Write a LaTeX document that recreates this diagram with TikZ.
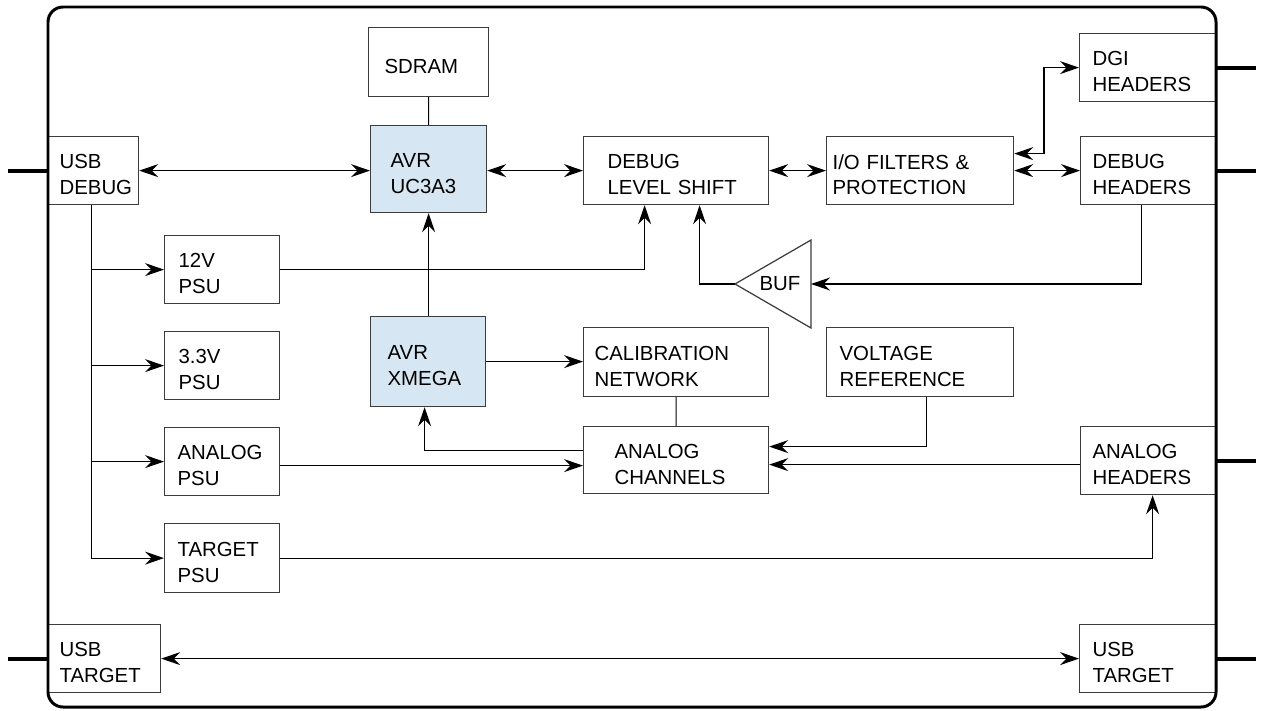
\documentclass[tikz,border=0pt]{standalone}
\usepackage{fontspec}
\setmainfont{Liberation Sans}
\usepackage{xcolor}
\usetikzlibrary{positioning,arrows.meta,calc}
\definecolor{edgeGray}{RGB}{60,60,60}
\definecolor{cpuBlue}{RGB}{214,230,242}

\begin{document}
\begin{tikzpicture}[
  x=0.02cm, y=-0.02cm,
  every node/.style={font=\fontsize{11.6}{14.7}\selectfont},
  >={Stealth[length=3.8mm, width=2.6mm, inset=1.3mm]},
  blockNode/.style={draw=edgeGray, fill=white, line width=0.7pt, anchor=north west,
    align=left, inner ysep=0pt, text depth=10.1pt},
  cpuNode/.style={blockNode, fill=cpuBlue},
  wire/.style={line width=0.65pt},
  stubLine/.style={line width=2.3pt},
  frameLine/.style={line width=1.7pt, rounded corners=0.3cm}
]
  \useasboundingbox (0,0) rectangle (1261,710);

  % Debug side, top row
  \node[blockNode, text width=1.36cm, inner xsep=0.22cm, minimum height=1.36cm] (usbdbg) at (48,136) {USB\\DEBUG};
  \node[blockNode, text width=1.76cm, inner xsep=0.32cm, minimum height=1.38cm, text height=12.9pt, text depth=0pt] (sdram) at (368,27) {SDRAM};
  \node[cpuNode, text width=1.52cm, inner xsep=0.40cm, minimum height=1.74cm] (uc3) at (370,125) {AVR\\UC3A3};
  \node[blockNode, text width=2.74cm, inner xsep=0.48cm, minimum height=1.36cm] (lvlshift) at (583,136) {DEBUG\\LEVEL SHIFT};
  \node[blockNode, text width=3.50cm, inner xsep=0.12cm, minimum height=1.36cm] (iofilt) at (826,136) {I/O FILTERS \&\\PROTECTION};
  \node[blockNode, text width=2.22cm, inner xsep=0.26cm, minimum height=1.36cm] (dgi) at (1079,33) {DGI\\HEADERS};
  \node[blockNode, text width=2.24cm, inner xsep=0.24cm, minimum height=1.36cm] (dbghdr) at (1080,136) {DEBUG\\HEADERS};

  % Power supplies
  \node[blockNode, text width=1.74cm, inner xsep=0.28cm, minimum height=1.36cm] (psu12) at (164,235) {12V\\PSU};
  \node[blockNode, text width=1.74cm, inner xsep=0.28cm, minimum height=1.36cm] (psu33) at (164,331) {3.3V\\PSU};
  \node[blockNode, text width=1.78cm, inner xsep=0.26cm, minimum height=1.36cm] (apsu) at (164,427) {ANALOG\\PSU};
  \node[blockNode, text width=1.78cm, inner xsep=0.26cm, minimum height=1.38cm] (tpsu) at (164,523) {TARGET\\PSU};

  % Analog side
  \node[cpuNode, text width=1.62cm, inner xsep=0.34cm, minimum height=1.80cm] (xmega) at (370,316) {AVR\\XMEGA};
  \node[blockNode, text width=3.26cm, inner xsep=0.22cm, minimum height=1.38cm] (calib) at (583,327) {CALIBRATION\\NETWORK};
  \node[blockNode, text width=3.22cm, inner xsep=0.26cm, minimum height=1.38cm] (vref) at (826,327) {VOLTAGE\\REFERENCE};
  \node[blockNode, text width=2.46cm, inner xsep=0.62cm, minimum height=1.34cm] (achan) at (583,426) {ANALOG\\CHANNELS};
  \node[blockNode, text width=2.24cm, inner xsep=0.24cm, minimum height=1.36cm] (ahdr) at (1080,426) {ANALOG\\HEADERS};

  % USB target pass-through
  \node[blockNode, text width=1.80cm, inner xsep=0.22cm, minimum height=1.36cm] (usbtl) at (48,624) {USB\\TARGET};
  \node[blockNode, text width=2.22cm, inner xsep=0.26cm, minimum height=1.36cm] (usbtr) at (1079,624) {USB\\TARGET};

  % Buffer
  \coordinate (bufTip) at (735,284);
  \coordinate (bufBase) at (811,284);
  \draw[draw=edgeGray, line width=0.7pt] (bufTip) -- (811,240) -- (811,328) -- cycle;
  \node (buf) at (780,284) {BUF};

  % Debug path
  \draw[wire, <->] (usbdbg.east) -- (usbdbg.east -| uc3.west);
  \draw[wire, <->] (lvlshift.west -| uc3.east) -- (lvlshift.west);
  \draw[wire, <->] (lvlshift.east) -- (iofilt.west);
  \draw[wire, <->] (iofilt.east) -- (dbghdr.west);
  \draw[wire, <->] ($(iofilt.east)+(0,-17)$) -| ($(dgi.west)+(-35,0)$) -- (dgi.west);
  \draw[wire] (sdram.south) -- (uc3.north);
  \draw[wire, ->] (uc3.south |- xmega.north) -- (uc3.south);
  \draw[wire, ->] (psu12.east) -| ($(lvlshift.south)+(-31.5,0)$);
  \draw[wire, ->] (bufTip) -| ($(lvlshift.south)+(23.5,0)$);
  \draw[wire, ->] ($(dbghdr.south)+(-7.5,0)$) |- (bufBase);

  % Supply bus
  \coordinate (busTop) at ($(usbdbg.south)+(-2,0)$);
  \draw[wire, ->] (busTop) |- (psu12.west);
  \draw[wire, ->] (busTop) |- (psu33.west);
  \draw[wire, ->] (busTop) |- (apsu.west);
  \draw[wire, ->] (busTop) |- (tpsu.west);

  % Analog path
  \draw[wire, ->] (xmega.east) -- (xmega.east -| calib.west);
  \draw[wire] (calib.south) -- (achan.north);
  \draw[wire, ->] ($(achan.west)+(0,-9.5)$) -| ($(xmega.south)+(-3.5,0)$);
  \coordinate (apsuOut) at ($(apsu.east)+(0,4)$);
  \draw[wire, ->] (apsuOut) -- (apsuOut -| achan.west);
  \draw[wire, ->] ($(vref.south)+(6.5,0)$) |- ($(achan.east)+(0,-13.5)$);
  \coordinate (ahdrOut) at ($(ahdr.west)+(0,4)$);
  \draw[wire, ->] (ahdrOut) -- (ahdrOut -| achan.east);
  \draw[wire, ->] (tpsu.east) -| ($(ahdr.south)+(4,0)$);
  \draw[wire, <->] (usbtl.east) -- (usbtr.west);

  % Board outline and connectors
  \draw[frameLine] (48,7) rectangle (1216,707);
  \draw[stubLine] (usbdbg.west) -- ++(-40,0);
  \draw[stubLine] (usbtl.west) -- ++(-40,0);
  \draw[stubLine] (dgi.east) -- ++(39,0);
  \draw[stubLine] (dbghdr.east) -- ++(39,0);
  \draw[stubLine] (ahdr.east) -- ++(39,0);
  \draw[stubLine] (usbtr.east) -- ++(39,0);
\end{tikzpicture}
\end{document}
